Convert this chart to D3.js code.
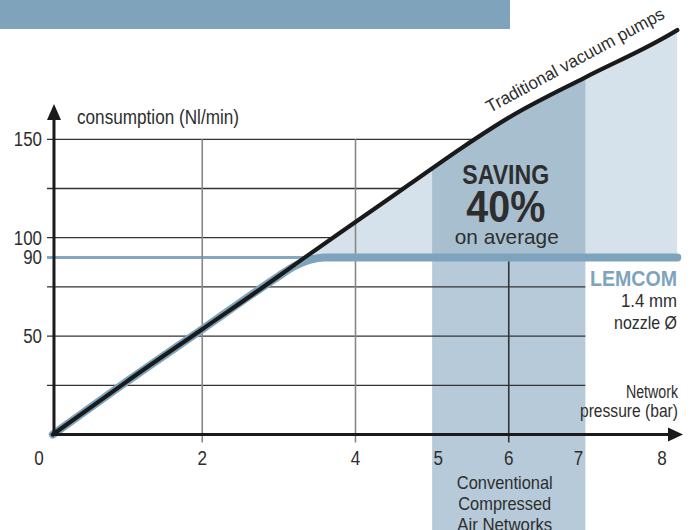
<!DOCTYPE html>
<html><head><meta charset="utf-8">
<script src="https://cdn.jsdelivr.net/npm/d3@7"></script>
<style>
html,body{margin:0;padding:0;background:#fff;}
svg{display:block;}
text{font-family:"Liberation Sans",Arial,sans-serif;fill:#2e2e2e;}
</style></head>
<body>
<svg id="chart" width="693" height="530"></svg>
<script>
// ---- data ----
const pressure    = [0.05, 1, 2, 3, 3.34, 4, 4.7, 5.4, 6, 7, 8, 8.2];
const traditional = [0, 26.5, 53.5, 80.5, 90, 108, 127, 146, 161, 181.5, 201, 205.5];
const lemcomP     = [0.05, 1, 2, 3, 3.2, 3.4, 3.6, 5, 7, 8.2];
const lemcomV     = [0, 26.5, 53.5, 80.5, 85.5, 88.7, 90, 90, 90, 90];
const lemcomLevel = 90;
const conventionalBand = [5, 7];
const xTicks = ["0","2","4","5","6","7","8"];
const xTickVals = [0,2,4,5,6,7,8];
const yTickLabels = ["150","100","90","50"];
const yTickVals = [150,100,90,50];
const yGrid = [25,50,75,100,125,150];
const xGrid = [2,4];
const bandLabel = ["Conventional","Compressed","Air Networks"];
const bandLabelW = [96,93,95];

const svg = d3.select("#chart");
const xs = d3.scaleLinear().domain([0,8]).range([49,662]);
const ys = d3.scaleLinear().domain([0,150]).range([434.5,139.3]);

const trad = pressure.map((p,i)=>[p,traditional[i]]);
const lem = lemcomP.map((p,i)=>[p,lemcomV[i]]);
const line = d3.line().x(d=>xs(d[0])).y(d=>ys(d[1])).curve(d3.curveMonotoneX);

function fit(sel, w){ return sel.attr("textLength", w).attr("lengthAdjust","spacingAndGlyphs"); }

// banner
svg.append("rect").attr("x",0).attr("y",0).attr("width",510).attr("height",29).attr("fill","#7fa3ba");

// clip: area under traditional curve
const defs = svg.append("defs");
defs.append("clipPath").attr("id","under")
  .append("path")
  .attr("d", d3.area().x(d=>xs(d[0])).y0(ys(-60)).y1(d=>ys(d[1])).curve(d3.curveMonotoneX)(trad));

// lower band (conventional networks)
svg.append("rect")
  .attr("x", xs(conventionalBand[0])).attr("width", xs(conventionalBand[1])-xs(conventionalBand[0]))
  .attr("y", ys(lemcomLevel)).attr("height", 530-ys(lemcomLevel))
  .attr("fill","#b6cad9");

// horizontal grid
svg.append("g").selectAll("line").data(yGrid).join("line")
  .attr("x1", xs(0)-2).attr("x2", xs(7))
  .attr("y1", d=>ys(d)).attr("y2", d=>ys(d))
  .attr("stroke","#333").attr("stroke-width",1.3);

// thin 90 reference line
svg.append("line").attr("x1", xs(0)-2).attr("x2", xs(3.5))
  .attr("y1", ys(lemcomLevel)).attr("y2", ys(lemcomLevel))
  .attr("stroke","#84a8c0").attr("stroke-width",3);

// saving region
const g = svg.append("g").attr("clip-path","url(#under)");
g.append("rect").attr("x", xs(3)).attr("width", xs(8.2)-xs(3))
  .attr("y", 0).attr("height", ys(lemcomLevel))
  .attr("fill","#d6e2eb");
g.append("rect")
  .attr("x", xs(conventionalBand[0])).attr("width", xs(conventionalBand[1])-xs(conventionalBand[0]))
  .attr("y", 0).attr("height", ys(lemcomLevel))
  .attr("fill","#a8bfd0");

// vertical grid
svg.append("g").selectAll("line").data(xGrid).join("line")
  .attr("x1", d=>xs(d)).attr("x2", d=>xs(d))
  .attr("y1", ys(150)).attr("y2", ys(0)+8)
  .attr("stroke","#888").attr("stroke-width",1.6);
svg.append("line").attr("x1", xs(6)).attr("x2", xs(6))
  .attr("y1", ys(lemcomLevel)).attr("y2", ys(0)+8)
  .attr("stroke","#333").attr("stroke-width",1.6);

// LEMCOM line
svg.append("path").attr("d", line(lem)).attr("fill","none")
  .attr("stroke","#7ea4bd").attr("stroke-width",8).attr("stroke-linecap","round").attr("stroke-linejoin","round");

// traditional line
svg.append("path").attr("d", line(trad)).attr("fill","none")
  .attr("stroke","#1a1a1a").attr("stroke-width",4.2).attr("stroke-linecap","round");

// axes
const ax = xs(0.065);
svg.append("line").attr("x1", ax).attr("x2", ax).attr("y1", ys(0)+1.5).attr("y2", 118)
  .attr("stroke","#1a1a1a").attr("stroke-width",3);
svg.append("path").attr("d", `M${ax-7},120 L${ax},104 L${ax+7},120 Z`).attr("fill","#1a1a1a");
svg.append("line").attr("x1", ax).attr("x2", 670).attr("y1", ys(0)).attr("y2", ys(0))
  .attr("stroke","#1a1a1a").attr("stroke-width",3);
svg.append("path").attr("d", `M668,${ys(0)-7} L683,${ys(0)} L668,${ys(0)+7} Z`).attr("fill","#1a1a1a");

// y tick labels
svg.append("g").selectAll("text").data(yTickVals).join("text")
  .attr("x", 42).attr("y", d=>ys(d)).attr("dy","0.35em")
  .attr("text-anchor","end").attr("font-size",19.5)
  .attr("textLength", d=>String(d).length*9.4).attr("lengthAdjust","spacingAndGlyphs")
  .text((d,i)=>yTickLabels[i]);

// x tick labels
const xOff = {0:-10,5:6,7:-7};
svg.append("g").selectAll("text").data(xTickVals).join("text")
  .attr("x", d=>xs(d)+(xOff[d]||0)).attr("y", 465)
  .attr("text-anchor","middle").attr("font-size",20)
  .attr("textLength", 9.5).attr("lengthAdjust","spacingAndGlyphs")
  .text((d,i)=>xTicks[i]);

// axis titles
fit(svg.append("text").attr("x",77).attr("y",124).attr("font-size",19.5).text("consumption (Nl/min)"),162);
fit(svg.append("text").attr("x",678).attr("y",398).attr("text-anchor","end").attr("font-size",17.5).text("Network"),52);
fit(svg.append("text").attr("x",678).attr("y",417).attr("text-anchor","end").attr("font-size",17.5).text("pressure (bar)"),98);

// curve label
fit(svg.append("text").attr("transform","translate(490,113) rotate(-28.5)").attr("font-size",17.5).text("Traditional vacuum pumps"),200);

// saving text
const cx = xs(6);
fit(svg.append("text").attr("x",cx-3).attr("y",184).attr("text-anchor","middle").attr("font-size",28).attr("font-weight","bold").text("SAVING"),87);
fit(svg.append("text").attr("x",cx-3).attr("y",222).attr("text-anchor","middle").attr("font-size",44).attr("font-weight","bold").text("40%"),79);
fit(svg.append("text").attr("x",cx-2).attr("y",244).attr("text-anchor","middle").attr("font-size",21).text("on average"),104);

// LEMCOM label
fit(svg.append("text").attr("x",677).attr("y",286).attr("text-anchor","end").attr("font-size",22).attr("font-weight","bold").style("fill","#7ea4bd").text("LEMCOM"),87);
fit(svg.append("text").attr("x",677).attr("y",307).attr("text-anchor","end").attr("font-size",19).text("1.4 mm"),56);
fit(svg.append("text").attr("x",677).attr("y",329).attr("text-anchor","end").attr("font-size",19).text("nozzle Ø"),63);

// band label
bandLabel.forEach((t,i)=>{
  fit(svg.append("text").attr("x",cx-4).attr("y",489+i*21).attr("text-anchor","middle").attr("font-size",19).text(t), bandLabelW[i]);
});
</script>
</body></html>
